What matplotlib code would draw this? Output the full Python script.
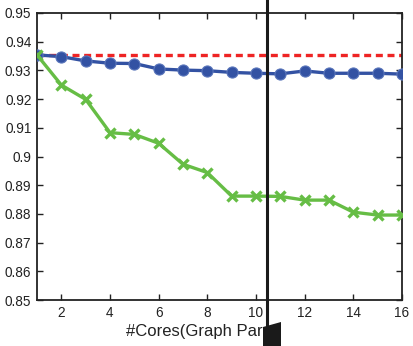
import matplotlib
matplotlib.use("Agg")
import matplotlib.pyplot as plt
from matplotlib.patches import Polygon
from matplotlib.lines import Line2D

cores = list(range(1, 17))
blue_vals = [0.9354, 0.9348, 0.9333, 0.9325, 0.9324, 0.9305, 0.9301, 0.9299,
             0.9293, 0.9290, 0.9288, 0.9298, 0.9290, 0.9290, 0.9290, 0.9287]
green_vals = [0.9354, 0.9249, 0.9199, 0.9083, 0.9077, 0.9046, 0.8973, 0.8944,
              0.8862, 0.8862, 0.8861, 0.8848, 0.8848, 0.8806, 0.8796, 0.8796]
red_level = 0.9354
xticks = [2, 4, 6, 8, 10, 12, 14, 16]
yticks = [0.85, 0.86, 0.87, 0.88, 0.89, 0.90, 0.91, 0.92, 0.93, 0.94, 0.95]
ytick_labels = ["0.85", "0.86", "0.87", "0.88", "0.89", "0.9", "0.91", "0.92", "0.93", "0.94", "0.95"]
xlabel_text = "#Cores(Graph Par"

plt.rcParams['font.family'] = ['Liberation Sans', 'DejaVu Sans']

W, H = 413, 346
fig = plt.figure(figsize=(W / 100, H / 100), dpi=100)
ax = fig.add_axes([37 / W, (H - 300) / H, (402 - 37) / W, (300 - 13) / H])

ax.plot([1, 16], [red_level, red_level], color='#EE2424', lw=2.4,
        dashes=(2.1, 1.4), zorder=2)
ax.plot(cores, blue_vals, color='#3352A3', lw=2.4, marker='o', ms=8,
        mfc='#3352A3', mec='#5a76bb', mew=0.8, zorder=3)
ax.plot(cores, green_vals, color='#66BD45', lw=2.4, marker='x', ms=7,
        mew=2.4, zorder=4)

ax.set_xlim(1, 16)
ax.set_ylim(0.85, 0.95)
ax.set_xticks(xticks)
ax.set_xticklabels([str(t) for t in xticks])
ax.set_yticks(yticks)
ax.set_yticklabels(ytick_labels)
ax.tick_params(direction='in', length=4, width=1, top=True, right=True,
               labelsize=9.8, colors='#222222', pad=4)
for s in ax.spines.values():
    s.set_linewidth(1.3)
    s.set_color('#222222')

fig.text(126 / W, (H - 336) / H, xlabel_text, fontsize=12, color='#222222',
         ha='left', va='baseline')

# vertical black line across the figure
fig.add_artist(Line2D([266.5 / W, 266.5 / W], [0, 1], color='#1a1a1a', lw=2.2,
                      transform=fig.transFigure, zorder=10))
# black block at the bottom
poly = Polygon([(263 / W, 0), (263 / W, (H - 327) / H), (281 / W, (H - 322) / H), (281 / W, 0)],
               closed=True, transform=fig.transFigure, facecolor='#1a1a1a',
               edgecolor='none', zorder=11)
fig.add_artist(poly)

fig.savefig("out.png", dpi=100)
